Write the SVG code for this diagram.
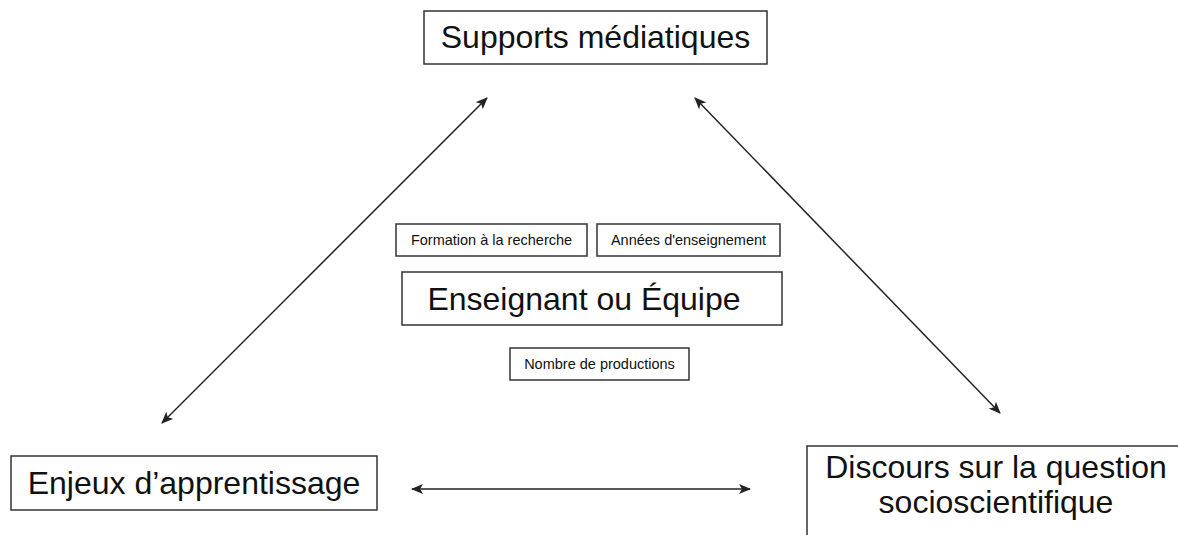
<svg xmlns="http://www.w3.org/2000/svg" width="1178" height="535" viewBox="0 0 1178 535">
<style>
.box{fill:#fff;stroke:#333;stroke-width:1.5}
.big{font-family:"Liberation Sans",Arial,sans-serif;font-size:32px;fill:#111;text-anchor:middle}
.small{font-family:"Liberation Sans",Arial,sans-serif;font-size:14.5px;fill:#111;text-anchor:middle}
.conn{stroke:#222;stroke-width:1.5;fill:none;marker-start:url(#ah);marker-end:url(#ah)}
</style>
<defs>
<marker id="ah" viewBox="0 0 12 10" refX="11" refY="5" markerWidth="12" markerHeight="10" markerUnits="userSpaceOnUse" orient="auto-start-reverse">
<path d="M0,0 L12,5 L0,10 L3,5 Z" fill="#222"/>
</marker>
</defs>
<rect width="1178" height="535" fill="#fff"/>
<g id="connectors">
<line class="conn" x1="487" y1="98" x2="162" y2="423"/>
<line class="conn" x1="695" y1="98" x2="1000" y2="413"/>
<line class="conn" x1="412" y1="489" x2="750" y2="489"/>
</g>
<g id="supports">
<rect class="box" x="424" y="11" width="343" height="53"/>
<text class="big" x="595.5" y="48">Supports médiatiques</text>
</g>
<g id="formation">
<rect class="box" x="396" y="224" width="191" height="32"/>
<text class="small" x="491.5" y="245">Formation à la recherche</text>
</g>
<g id="annees">
<rect class="box" x="597" y="224" width="183" height="32"/>
<text class="small" x="688.5" y="245">Années d'enseignement</text>
</g>
<g id="enseignant">
<rect class="box" x="402" y="272" width="380" height="53"/>
<text class="big" x="584" y="310">Enseignant ou Équipe</text>
</g>
<g id="nombre">
<rect class="box" x="510" y="348" width="179" height="32"/>
<text class="small" x="599.5" y="369">Nombre de productions</text>
</g>
<g id="enjeux">
<rect class="box" x="11" y="456" width="366" height="54"/>
<text class="big" x="194" y="494">Enjeux d’apprentissage</text>
</g>
<g id="discours">
<rect class="box" x="807" y="446" width="400" height="120"/>
<text class="big" x="996" y="478">Discours sur la question</text>
<text class="big" x="996" y="513">socioscientifique</text>
</g>
</svg>
